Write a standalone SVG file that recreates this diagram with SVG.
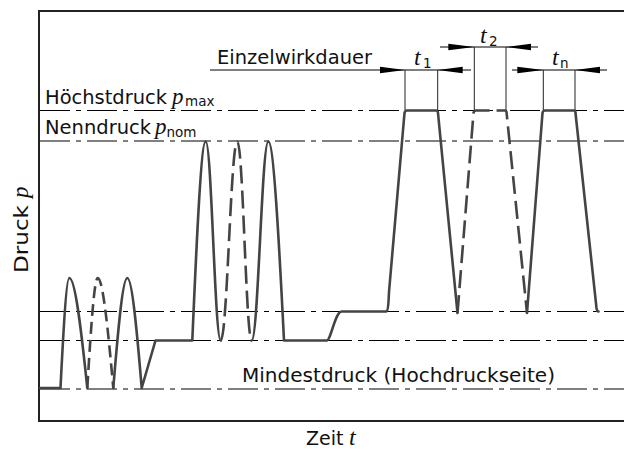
<svg xmlns="http://www.w3.org/2000/svg" width="624" height="452" viewBox="0 0 624 452">
<defs>
<style>
.lbl{font-family:"DejaVu Sans","Noto Sans",sans-serif;font-size:19px;fill:#111}
.var{font-family:"Liberation Serif","DejaVu Serif",serif;font-style:italic;font-size:23px;fill:#111}
.tv{font-family:"Liberation Serif","DejaVu Serif",serif;font-style:italic;font-size:24px;fill:#111}
.sub{font-family:"DejaVu Sans","Noto Sans",sans-serif;font-size:13.5px;fill:#111}
.dd{stroke:#000;stroke-width:1;fill:none;stroke-dasharray:30 6 5 6}
.c{stroke:#444;stroke-width:2.6;fill:none;stroke-linejoin:round;stroke-linecap:round}
.cd{stroke:#444;stroke-width:2.6;fill:none;stroke-dasharray:18 7}
.cs{stroke:#444;stroke-width:2.6;fill:none;stroke-dasharray:12 6}
.dim{stroke:#000;stroke-width:1;fill:none}
.ext{stroke:#222;stroke-width:1;fill:none}
.ah{fill:#000}
</style>
</defs>
<rect width="624" height="452" fill="#fff"/>
<g id="frame">
<path d="M625,11 H39 V421 H625" fill="none" stroke="#222" stroke-width="2"/>
</g>
<g id="levels">
<line class="dd" x1="40" y1="110.5" x2="624" y2="110.5"/>
<line class="dd" x1="40" y1="141" x2="624" y2="141"/>
<line class="dd" x1="40" y1="311.5" x2="624" y2="311.5"/>
<line class="dd" x1="40" y1="340.5" x2="624" y2="340.5"/>
<line class="dd" x1="40" y1="389" x2="624" y2="389"/>
</g>
<g id="labels">
<text class="lbl" x="45" y="103.5" textLength="122" lengthAdjust="spacingAndGlyphs">Höchstdruck</text>
<text class="var" x="172" y="103.5">p</text>
<text class="sub" x="185" y="106">max</text>
<text class="lbl" x="45" y="134" textLength="106" lengthAdjust="spacingAndGlyphs">Nenndruck</text>
<text class="var" x="155" y="134">p</text>
<text class="sub" x="166.5" y="137">nom</text>
<text class="lbl" x="242" y="382" textLength="313" lengthAdjust="spacingAndGlyphs">Mindestdruck (Hochdruckseite)</text>
<text class="lbl" x="217" y="64" textLength="155" lengthAdjust="spacingAndGlyphs">Einzelwirkdauer</text>
</g>
<g id="axes-labels">
<text class="lbl" x="306" y="445">Zeit</text>
<text class="tv" x="349" y="445">t</text>
<g transform="translate(28,273) rotate(-90)">
<text class="lbl" x="0" y="0" textLength="68" lengthAdjust="spacingAndGlyphs">Druck</text>
<text class="var" x="75" y="0">p</text>
</g>
</g>
<g id="curve">
<path class="c" d="M40,388 H60.5 C63.4,330.4 66.4,278 69.3,278 C75.3,278 81.3,330.4 87.3,388"/>
<path class="cs" d="M87.3,388 C90.8,330.4 94.2,278 97.7,278 C102.9,278 108.1,330.4 113.3,388"/>
<path class="c" d="M113.3,388 C118,330.4 122.6,278 127.3,278 C132.1,278 136.9,330.4 141.7,388 L155.5,340.5 H192.3 C196.8,236.3 201.2,141.5 205.7,141.5 C211.7,141.5 214.7,340.5 220.7,340.5"/>
<path class="cd" d="M220.7,340.5 C227.3,340.5 230.7,141.5 237.3,141.5 C243.1,141.5 245.9,340.5 251.7,340.5"/>
<path class="c" d="M251.7,340.5 C258.3,340.5 261.7,141.5 268.3,141.5 C273.5,141.5 278.8,236.3 284,340.5 H326.7 C331,340.5 335,311.5 341.7,311.5 H386 C388,311.5 388.6,302 389,292 L404.5,113 Q405,110.5 407,110.5 H436 Q437.8,110.5 438,113 L457.5,313"/>
<path class="cd" d="M457.5,313 L473.5,113 Q474,110.5 476,110.5 H505 Q506.4,110.5 506.6,113 L527,313"/>
<path class="c" d="M527,313 L542.5,113 Q543,110.5 545,110.5 H574 Q575.3,110.5 575.5,113 L596.5,308 Q597,311.5 598.5,311.5"/>
</g>
<g id="dimensions">
<line class="dim" x1="210" y1="70" x2="471" y2="70"/>
<line class="dim" x1="440" y1="47" x2="538" y2="47"/>
<line class="dim" x1="512" y1="70" x2="607" y2="70"/>
<line class="ext" x1="405" y1="70" x2="405" y2="110"/>
<line class="ext" x1="437.7" y1="70" x2="437.7" y2="110"/>
<line class="ext" x1="474.3" y1="47" x2="474.3" y2="110"/>
<line class="ext" x1="506" y1="47" x2="506" y2="110"/>
<line class="ext" x1="543.3" y1="70" x2="543.3" y2="110"/>
<line class="ext" x1="575" y1="70" x2="575" y2="110"/>
<path class="ah" d="M405,70 L380,66.8 L380,73.2 Z"/>
<path class="ah" d="M437.7,70 L462.7,66.8 L462.7,73.2 Z"/>
<path class="ah" d="M474.3,47 L448.3,43.8 L448.3,50.2 Z"/>
<path class="ah" d="M506,47 L531,43.8 L531,50.2 Z"/>
<path class="ah" d="M543.3,70 L517.3,66.8 L517.3,73.2 Z"/>
<path class="ah" d="M575,70 L600,66.8 L600,73.2 Z"/>
<text class="tv" x="414" y="65">t</text>
<text class="sub" x="423" y="68">1</text>
<text class="tv" x="480" y="43">t</text>
<text class="sub" x="489" y="46">2</text>
<text class="tv" x="552" y="65">t</text>
<text class="sub" x="560" y="68">n</text>
</g>
</svg>
